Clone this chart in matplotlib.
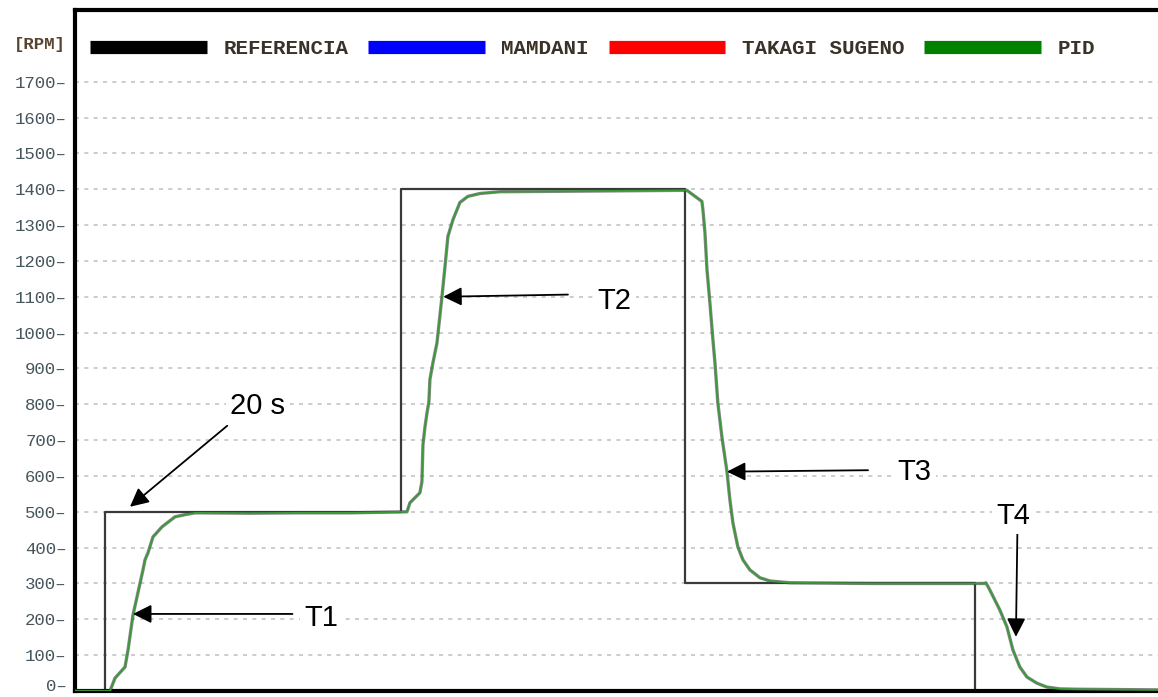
import matplotlib
matplotlib.use("Agg")
import matplotlib.pyplot as plt
from matplotlib.lines import Line2D
from matplotlib.transforms import ScaledTranslation

# ---- data (time in s, speed in RPM) ----
ref_t = [0.0, 2.1, 22.5, 42.1, 62.1, 74.7]
ref_v = [0, 500, 1400, 300, 0, 0]

pid_t = [0.0, 2.41, 2.76, 3.45, 3.66, 4.0, 4.34, 4.69, 4.83, 5.03, 5.38, 6.0, 6.9, 7.59,
         8.28, 12.07, 15.5, 18.97, 22.9,
         23.1, 23.79, 23.93, 24.0, 24.14, 24.28, 24.41, 24.48, 24.69, 24.97, 25.31,
         25.52, 25.72, 26.07, 26.55, 27.1, 27.93, 29.31, 36.2, 42.2,
         43.24, 43.31, 43.45, 43.59, 43.79, 44.0, 44.14, 44.34, 44.62, 44.97, 45.17,
         45.38, 45.72, 46.07, 46.55, 47.24, 47.93, 49.31, 55.0, 62.76,
         62.83, 63.1, 63.79, 64.28, 64.69, 65.17, 65.66, 66.34, 67.03, 67.93, 69.1, 74.7]
pid_v = [0, 0, 36, 67, 115, 212, 274, 338, 366, 385, 430, 458, 486, 492,
         497, 496, 497, 497, 500,
         525, 553, 584, 687, 737, 776, 807, 869, 916, 972, 1100,
         1184, 1268, 1315, 1363, 1380, 1388, 1393, 1395, 1397,
         1366, 1343, 1279, 1176, 1084, 980, 916, 804, 709, 612, 534,
         469, 402, 366, 338, 316, 307, 302, 300, 300,
         302, 282, 226, 179, 115, 67, 39, 22, 11, 6, 5, 3]

yticks = list(range(0, 1800, 100))
legend_labels = ["REFERENCIA", "MAMDANI", "TAKAGI SUGENO", "PID"]
legend_colors = ["#000000", "#0000ff", "#ff0000", "#008000"]

W, H = 1158, 697
fig = plt.figure(figsize=(W / 100, H / 100), dpi=100)
ax = fig.add_axes([75 / W, 6 / H, 1083 / W, 681 / H])

ax.set_xlim(0, 74.7)
ax.set_ylim(0, 1900)

# grid
for v in yticks[1:]:
    ax.axhline(v, color="#c4c4c4", lw=1.2, ls=(0, (2.4, 3.2)), zorder=0)

ax.plot(ref_t, ref_v, drawstyle="steps-post", color="#3a3a3a", lw=1.6, zorder=2)
ax.plot(pid_t, pid_v, color="#3a3a3a", lw=2.4, zorder=3, alpha=0.6)
ax.plot(pid_t, pid_v, color="#3a9a3a", lw=1.3, zorder=4)

# axes styling
for s in ["left", "top", "bottom"]:
    ax.spines[s].set_linewidth(3)
    ax.spines[s].set_color("black")
ax.spines["right"].set_visible(False)
ax.set_xticks([])
ax.set_yticks(yticks)
ax.set_yticklabels([f"{v}\u2013" for v in yticks], fontfamily="Liberation Mono",
                   fontsize=12.5, color="#46555c")
ax.tick_params(axis="y", length=0, pad=6)
zero_lbl = ax.get_yticklabels()[0]
zero_lbl.set_transform(zero_lbl.get_transform() +
                       ScaledTranslation(0, 4 / 72, fig.dpi_scale_trans))

ax.text(-0.009, 1805, "[RPM]", transform=ax.get_yaxis_transform(), ha="right",
        va="center", fontfamily="Liberation Mono", fontweight="bold", fontsize=12.5,
        color="#5a4430")

# legend
handles = [Line2D([], [], color=c, lw=9.5, solid_capstyle="butt") for c in legend_colors]
leg = ax.legend(handles, legend_labels, ncol=4, loc="center left",
                bbox_to_anchor=(15 / 1083, 1792 / 1900), frameon=False,
                handlelength=5.6, handletextpad=0.8, columnspacing=0.95,
                borderpad=0, borderaxespad=0,
                prop={"family": "Liberation Mono", "weight": "bold", "size": 15})
for t in leg.get_texts():
    t.set_color("#3a3228")

# annotations
ann_kw = dict(fontsize=21, fontfamily="Liberation Sans", ha="center", va="center",
              bbox=dict(boxstyle="square,pad=0.15", fc="white", ec="none"))
arrow = dict(arrowstyle="-|>", color="black", lw=1.3, mutation_scale=28,
             shrinkA=0, shrinkB=0)

ax.annotate("", xy=(3.79, 514), xytext=(10.5, 740), arrowprops=arrow, zorder=6)
ax.text(12.6, 795, "20 s", **ann_kw, zorder=7)

ax.annotate("", xy=(4.0, 215), xytext=(15.0, 215), arrowprops=arrow, zorder=6)
ax.text(17.0, 205, "T1", **ann_kw, zorder=7)

ax.annotate("", xy=(25.4, 1100), xytext=(34.0, 1106), arrowprops=arrow, zorder=6)
ax.text(37.2, 1087, "T2", **ann_kw, zorder=7)

ax.annotate("", xy=(44.97, 612), xytext=(54.7, 616), arrowprops=arrow, zorder=6)
ax.text(57.9, 612, "T3", **ann_kw, zorder=7)

ax.annotate("", xy=(64.9, 151), xytext=(65.0, 441), arrowprops=arrow, zorder=6)
ax.text(64.7, 489, "T4", **ann_kw, zorder=7)

fig.savefig("out.png", dpi=100)
